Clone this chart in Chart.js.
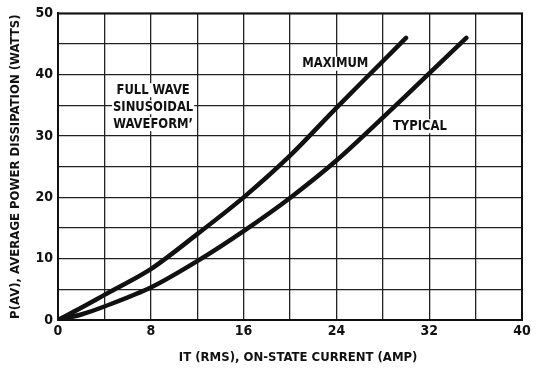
<!DOCTYPE html>
<html><head><meta charset="utf-8">
<script src="https://cdn.jsdelivr.net/npm/chart.js@4/dist/chart.umd.min.js"></script>
<style>html,body{margin:0;padding:0;background:#fff}#w{width:537px;height:369px}</style>
</head><body><div id="w"><canvas id="c" width="537" height="369"></canvas></div>
<script>
const maxCurrent = [0, 2, 4, 8, 12, 16, 20, 24, 28, 30];
const maxPower   = [0, 2, 4.1, 8.3, 14.0, 20, 26.8, 34.6, 42.2, 46.0];
const typCurrent = [0, 2, 4, 8, 12, 16, 20, 24, 28, 32, 35.2];
const typPower   = [0, 0.9, 2.2, 5.3, 9.6, 14.5, 19.9, 26.0, 33.0, 40.2, 46.0];
const xTickLabels = [0, 8, 16, 24, 32, 40];
const yTickLabels = [0, 10, 20, 30, 40, 50];
const notes = [
  {lines: ['FULL WAVE', 'SINUSOIDAL', 'WAVEFORM\u2019'], x: 8.2, y: 34.7},
  {lines: ['MAXIMUM'], x: 23.9, y: 41.8},
  {lines: ['TYPICAL'], x: 31.2, y: 31.6}
];
const FONT = '"DejaVu Sans Condensed","Liberation Sans Narrow","Liberation Sans",sans-serif';

const notePlugin = {
  id: 'notes',
  afterDatasetsDraw(chart) {
    const ctx = chart.ctx, xs = chart.scales.x, ys = chart.scales.y;
    ctx.save();
    ctx.font = 'bold 14px ' + FONT;
    ctx.textAlign = 'center';
    ctx.textBaseline = 'middle';
    const lh = 17;
    notes.forEach(n => {
      const cx = xs.getPixelForValue(n.x), cy = ys.getPixelForValue(n.y);
      const top = cy - lh * (n.lines.length - 1) / 2;
      n.lines.forEach((t, i) => {
        const yy = top + i * lh;
        ctx.save();
        ctx.translate(cx, yy);
        ctx.scale(0.92, 1);
        const w = ctx.measureText(t).width;
        ctx.fillStyle = '#fff'; ctx.fillRect(-w / 2 - 1, -7, w + 2, 14);
        ctx.fillStyle = '#111';
        ctx.fillText(t, 0, 0);
        ctx.restore();
      });
    });
    ctx.restore();
  }
};

const toPts = (xa, ya) => xa.map((v, i) => ({x: v, y: ya[i]}));

new Chart(document.getElementById('c'), {
  type: 'scatter',
  data: {
    datasets: [
      {label: 'MAXIMUM', data: toPts(maxCurrent, maxPower), showLine: true, borderColor: '#111', borderWidth: 4.5, pointRadius: 0, tension: 0.3, borderCapStyle: 'round'},
      {label: 'TYPICAL', data: toPts(typCurrent, typPower), showLine: true, borderColor: '#111', borderWidth: 4.5, pointRadius: 0, tension: 0.3, borderCapStyle: 'round'}
    ]
  },
  options: {
    responsive: false,
    animation: false,
    layout: {padding: {top: 9, right: 15, left: 4, bottom: 0}},
    plugins: {legend: {display: false}, tooltip: {enabled: false}},
    scales: {
      x: {
        type: 'linear', min: 0, max: 40,
        afterFit: s => { s.height = 49; },
        ticks: {stepSize: 4, autoSkip: false, maxRotation: 0, color: '#111', font: {family: FONT, size: 14, weight: 'bold'}, padding: 3,
          callback: v => xTickLabels.includes(v) ? String(v) : ''},
        grid: {color: '#222', lineWidth: 1.3, drawTicks: false},
        border: {color: '#111', width: 2},
        title: {display: true, text: '    IT (RMS), ON-STATE CURRENT (AMP)', color: '#111', font: {family: FONT, size: 13, weight: 'bold'}, padding: {top: 5}}
      },
      y: {
        type: 'linear', min: 0, max: 50,
        afterFit: s => { s.width = 54; },
        ticks: {stepSize: 5, autoSkip: false, color: '#111', font: {family: FONT, size: 14, weight: 'bold'}, padding: 5,
          callback: v => yTickLabels.includes(v) ? String(v) : ''},
        grid: {color: '#222', lineWidth: 1.3, drawTicks: false},
        border: {color: '#111', width: 2},
        title: {display: true, text: 'P(AV), AVERAGE POWER DISSIPATION (WATTS)', color: '#111', font: {family: FONT, size: 13, weight: 'bold'}, padding: {bottom: 2}}
      }
    }
  },
  plugins: [notePlugin, {
    id: 'frame',
    afterDraw(chart) {
      const {ctx, chartArea: a} = chart;
      ctx.save(); ctx.strokeStyle = '#111'; ctx.lineWidth = 2;
      ctx.strokeRect(a.left, a.top, a.right - a.left, a.bottom - a.top);
      ctx.restore();
    }
  }]
});
</script>
</body></html>
